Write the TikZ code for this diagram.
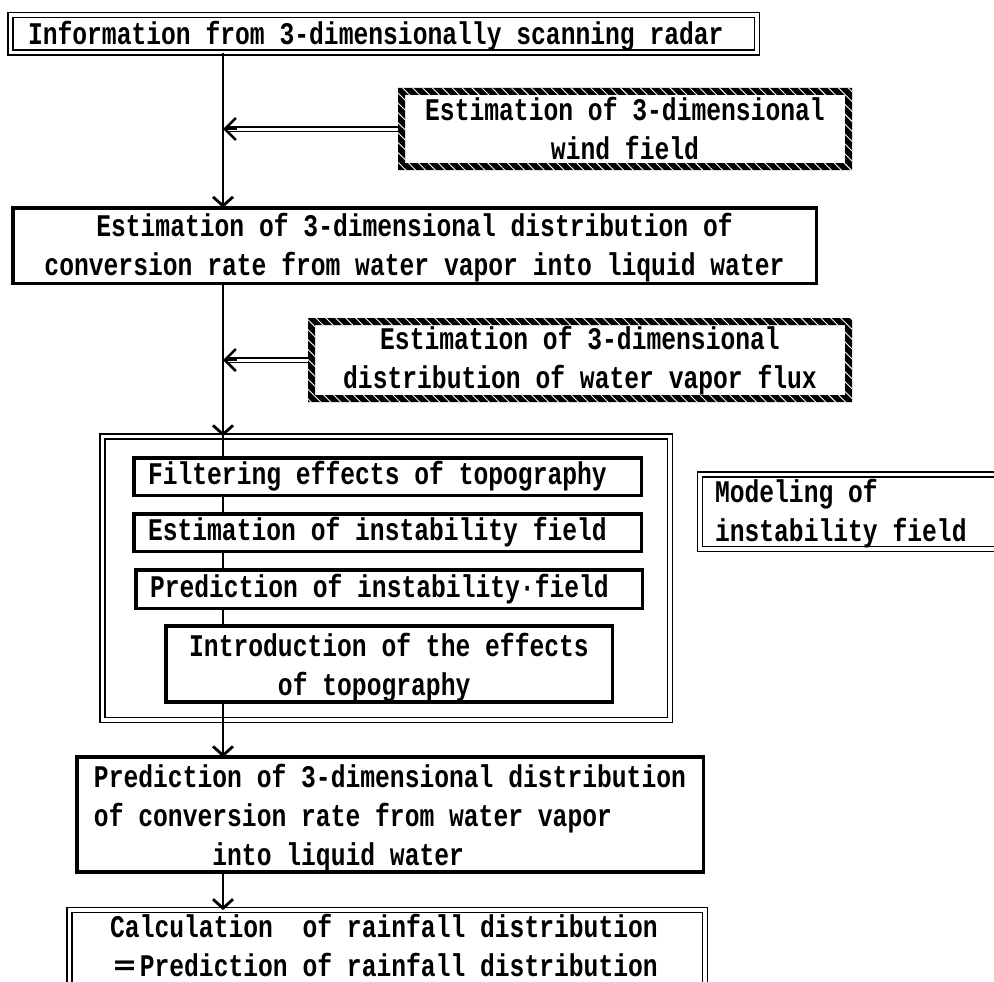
\documentclass[tikz,border=0pt]{standalone}
\usepackage{fontspec}
\usetikzlibrary{arrows.meta,patterns.meta}
\newfontfamily\jfont{Liberation Mono}[FakeStretch=0.783]
\newfontfamily\cjkfont{Noto Sans CJK JP}
\newcommand\jf{\jfont\bfseries\fontsize{31.5}{39}\selectfont}
\newcommand\myup{\rule{0pt}{28pt}}
\newcommand\fweq{\makebox[29.6pt][c]{\cjkfont\fontsize{27}{39}\selectfont ＝}}
\tikzset{
  box/.style={draw, line width=3.5pt, inner sep=0pt, outer sep=0pt, font=\jf, align=center},
  dbox/.style={draw, double, line width=1.5pt, double distance=3.5pt, inner sep=0pt, outer sep=0pt, font=\jf, align=center},
  hbox/.style={inner sep=0pt, outer sep=0pt, font=\jf, align=center},
  conn/.style={line width=2.8pt},
  arr/.style={-{Straight Barb[length=9pt,width=20pt]}},
  sidearr/.style={line width=2.6pt, -{Straight Barb[length=11pt,width=22pt]}},
  shaft/.style={double, line width=1.5pt, double distance=3pt},
  hatchband/.style={fill=black, even odd rule},
  hatchlines/.style={pattern={Lines[angle=-45,distance=7pt,line width=0.9pt]}, pattern color=white, even odd rule}
}
\begin{document}
\begin{tikzpicture}[x=1pt,y=-1pt]
\path[use as bounding box] (0,0) rectangle (994,982);
\fill[white] (0,0) rectangle (994,982);
\clip (0,0) rectangle (994,982);

% nodes
\node[dbox, minimum width=746.5pt, minimum height=37.5pt] (top) at (383.5,34)
  {\makebox[711pt][l]{\myup Information from 3-dimensionally scanning radar}};
\node[hbox, minimum width=454pt, minimum height=82pt] (wind) at (625,129)
  {Estimation of 3-dimensional\\wind field};
\node[box, minimum width=803.5pt, minimum height=75.5pt] (conv) at (414.5,245.5)
  {\myup Estimation of 3-dimensional distribution of\\conversion rate from water vapor into liquid water};
\node[hbox, minimum width=544pt, minimum height=84pt] (flux) at (580,360)
  {\rule{0pt}{24pt}Estimation of 3-dimensional\\distribution of water vapor flux};
\node[dbox, minimum width=567.5pt, minimum height=283.5pt] (cont) at (386,578) {};
\node[box, minimum width=507.5pt, minimum height=37.5pt] (filter) at (387.5,476.5)
  {\makebox[479pt][l]{Filtering effects of topography}};
\node[box, minimum width=507.5pt, minimum height=37.5pt] (estinst) at (387.5,532.5)
  {\makebox[479pt][l]{Estimation of instability field}};
\node[box, minimum width=506.5pt, minimum height=38.5pt] (predinst) at (389,589)
  {\makebox[478pt][l]{Prediction of instability\rlap{·} field}};
\node[box, minimum width=446.5pt, minimum height=74.5pt, align=left] (intro) at (389,664)
  {\rule{0pt}{30pt}Introduction of the effects\\\hphantom{iiiiii}of topography};
\node[dbox, minimum width=309.75pt, minimum height=74.5pt, align=left] (model) at (855,511.5)
  {\makebox[280pt][l]{\myup Modeling of}\\instability field};
\node[box, minimum width=626.5pt, minimum height=111.5pt, align=left] (pred3d) at (390,814.5)
  {\rule{0pt}{30pt}Prediction of 3-dimensional distribution\\of conversion rate from water vapor\\\hphantom{iiiiiiii}into liquid water};
\node[dbox, minimum width=635.5pt, minimum height=79.75pt, align=left] (calc) at (387,950)
  {\hspace*{-6pt}Calculation\ \ of rainfall distribution\\\hspace*{-6pt}\fweq Prediction of rainfall distribution\rule[-9pt]{0pt}{9pt}};

% hatched borders
\foreach \n in {wind,flux}{
  \path[hatchband] (\n.north west) rectangle (\n.south east)
     ([shift={(7,7)}]\n.north west) rectangle ([shift={(-7,-7)}]\n.south east);
  \path[hatchlines] (\n.north west) rectangle (\n.south east)
     ([shift={(7,7)}]\n.north west) rectangle ([shift={(-7,-7)}]\n.south east);
}

% main axis
\coordinate (ax) at (223,0);
\draw[conn, arr] (top.south -| ax) -- (conv.north -| ax);
\draw[conn, arr] (conv.south -| ax) -- (cont.north -| ax);
\draw[conn] (cont.north -| ax) -- (filter.north -| ax);
\draw[conn] (filter.south -| ax) -- (estinst.north -| ax);
\draw[conn] (estinst.south -| ax) -- (predinst.north -| ax);
\draw[conn] (predinst.south -| ax) -- (intro.north -| ax);
\draw[conn, arr] (intro.south -| ax) -- (pred3d.north -| ax);
\draw[conn, arr] (pred3d.south -| ax) -- (calc.north -| ax);

% side arrows (double shafts)
\draw[shaft] (wind.west) -- ([xshift=3pt]wind.west -| ax);
\draw[sidearr] ([xshift=14pt]wind.west -| ax) -- (wind.west -| ax);
\draw[shaft] (flux.west) -- ([xshift=3pt]flux.west -| ax);
\draw[sidearr] ([xshift=14pt]flux.west -| ax) -- (flux.west -| ax);
\end{tikzpicture}
\end{document}
